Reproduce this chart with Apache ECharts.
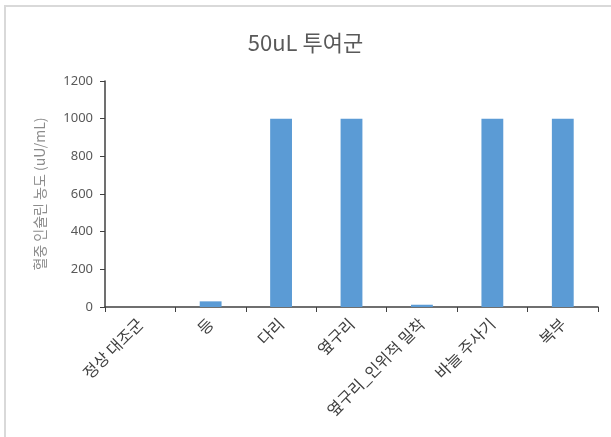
<!DOCTYPE html>
<html>
<head>
<meta charset="utf-8">
<script src="https://cdn.jsdelivr.net/npm/echarts@6/dist/echarts.min.js"></script>
<style>
  html, body { margin: 0; padding: 0; background: #fff; }
  #frame {
    position: absolute; left: 4px; top: 5px; width: 607px; height: 432px;
    border-left: 2px solid #d9d9d9; border-top: 2px solid #d9d9d9;
    box-sizing: border-box;
  }
  #chart { position: absolute; left: 0; top: 0; width: 611px; height: 437px; }
</style>
</head>
<body>
<div id="frame"></div>
<div id="chart"></div>
<script>
// 50uL 투여군 - 부위별 혈중 인슐린 농도
const categories = ['정상 대조군', '등', '다리', '옆구리', '옆구리_인위적 밀착', '바늘 주사기', '복부'];
const insulinValues = [0, 30, 1000, 1000, 12, 1000, 1000];
const yTicks = { min: 0, max: 1200, interval: 200 };

const chart = echarts.init(document.getElementById('chart'));
chart.setOption({
  animation: false,
  title: {
    text: '50uL 투여군',
    left: 'center',
    top: 27,
    textStyle: {
      fontFamily: 'Noto Sans CJK KR',
      fontSize: 22,
      fontWeight: 'normal',
      color: '#595959'
    }
  },
  grid: {
    left: 105,
    right: 13,
    top: 81,
    bottom: 130
  },
  xAxis: {
    type: 'category',
    data: categories,
    axisLine: { lineStyle: { color: '#404040', width: 1.5 } },
    axisTick: { show: true, alignWithLabel: false, length: 5, lineStyle: { color: '#404040' } },
    axisLabel: {
      rotate: 45,
      interval: 0,
      margin: 14,
      fontFamily: 'Noto Sans CJK KR',
      fontSize: 16,
      color: '#404040'
    }
  },
  yAxis: {
    type: 'value',
    min: yTicks.min,
    max: yTicks.max,
    interval: yTicks.interval,
    name: '혈중 인슐린 농도 (uU/mL)',
    nameLocation: 'middle',
    nameRotate: 90,
    nameGap: 58,
    nameTextStyle: {
      fontFamily: 'Noto Sans CJK KR',
      fontSize: 14,
      fontWeight: 'normal',
      color: '#8c8c8c'
    },
    axisLine: { show: true, lineStyle: { color: '#404040', width: 1.5 } },
    axisTick: { show: true, length: 5, lineStyle: { color: '#404040' } },
    splitLine: { show: false },
    axisLabel: {
      margin: 12,
      fontFamily: 'Noto Sans',
      fontSize: 13,
      color: '#595959',
      formatter: (v) => String(v)
    }
  },
  series: [
    {
      type: 'bar',
      data: insulinValues,
      barWidth: '31%',
      itemStyle: { color: '#5b9bd5' }
    }
  ]
});
</script>
</body>
</html>
